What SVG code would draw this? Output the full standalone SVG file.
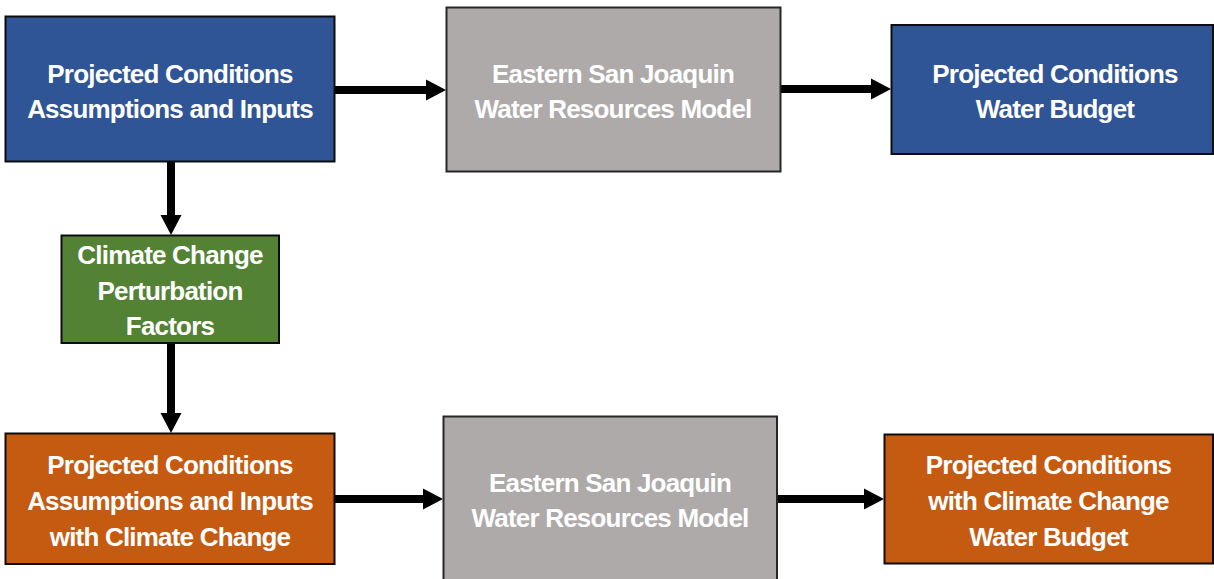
<svg xmlns="http://www.w3.org/2000/svg" width="1214" height="579" viewBox="0 0 1214 579">
<defs>
<style>
.box{stroke:#0d0d0d;stroke-width:2}
.blue{fill:#2F5597}
.gray{fill:#AEAAAA;stroke:#262626}
.green{fill:#548235}
.orange{fill:#C55A11}
.lbl{font-family:"Liberation Sans",Arial,sans-serif;font-weight:bold;font-size:26px;letter-spacing:-0.8px;fill:#ffffff;text-anchor:middle}
.conn{stroke:#000;stroke-width:8;fill:none;marker-end:url(#ah)}
</style>
<marker id="ah" markerUnits="userSpaceOnUse" viewBox="0 -11 20 22" refX="1" refY="0" markerWidth="20" markerHeight="22" orient="auto">
<path d="M0,-10.5 L20,0 L0,10.5 z" fill="#000"/>
</marker>
</defs>
<rect width="1214" height="579" fill="#ffffff"/>
<g id="connectors">
<line class="conn" x1="335" y1="90" x2="427" y2="90"/>
<line class="conn" x1="781" y1="89" x2="872" y2="89"/>
<line class="conn" x1="171" y1="162" x2="171" y2="216"/>
<line class="conn" x1="171" y1="343" x2="171" y2="414"/>
<line class="conn" x1="335" y1="499" x2="424" y2="499"/>
<line class="conn" x1="777" y1="499" x2="865" y2="499"/>
</g>
<g id="pc-inputs">
<rect class="box blue" x="5.5" y="16.5" width="329" height="145"/>
<text class="lbl" x="170" y="83">Projected Conditions</text>
<text class="lbl" x="170" y="118">Assumptions and Inputs</text>
</g>
<g id="esj-model-1">
<rect class="box gray" x="446.5" y="7.5" width="334" height="164"/>
<text class="lbl" x="613" y="83">Eastern San Joaquin</text>
<text class="lbl" x="613" y="118">Water Resources Model</text>
</g>
<g id="pc-budget">
<rect class="box blue" x="891.5" y="25" width="321.5" height="129"/>
<text class="lbl" x="1055" y="83">Projected Conditions</text>
<text class="lbl" x="1055" y="118">Water Budget</text>
</g>
<g id="cc-factors">
<rect class="box green" x="61.5" y="235.5" width="217.5" height="107.5"/>
<text class="lbl" x="170" y="264">Climate Change</text>
<text class="lbl" x="170" y="299.5">Perturbation</text>
<text class="lbl" x="170" y="335">Factors</text>
</g>
<g id="pc-cc-inputs">
<rect class="box orange" x="5.5" y="433.5" width="329" height="130.5"/>
<text class="lbl" x="170" y="474">Projected Conditions</text>
<text class="lbl" x="170" y="510">Assumptions and Inputs</text>
<text class="lbl" x="170" y="546">with Climate Change</text>
</g>
<g id="esj-model-2">
<rect class="box gray" x="443.5" y="416.5" width="333.5" height="170"/>
<text class="lbl" x="610" y="492">Eastern San Joaquin</text>
<text class="lbl" x="610" y="527">Water Resources Model</text>
</g>
<g id="pc-cc-budget">
<rect class="box orange" x="884.5" y="434.5" width="328.5" height="129"/>
<text class="lbl" x="1048.5" y="474">Projected Conditions</text>
<text class="lbl" x="1048.5" y="510">with Climate Change</text>
<text class="lbl" x="1048.5" y="546">Water Budget</text>
</g>
</svg>
